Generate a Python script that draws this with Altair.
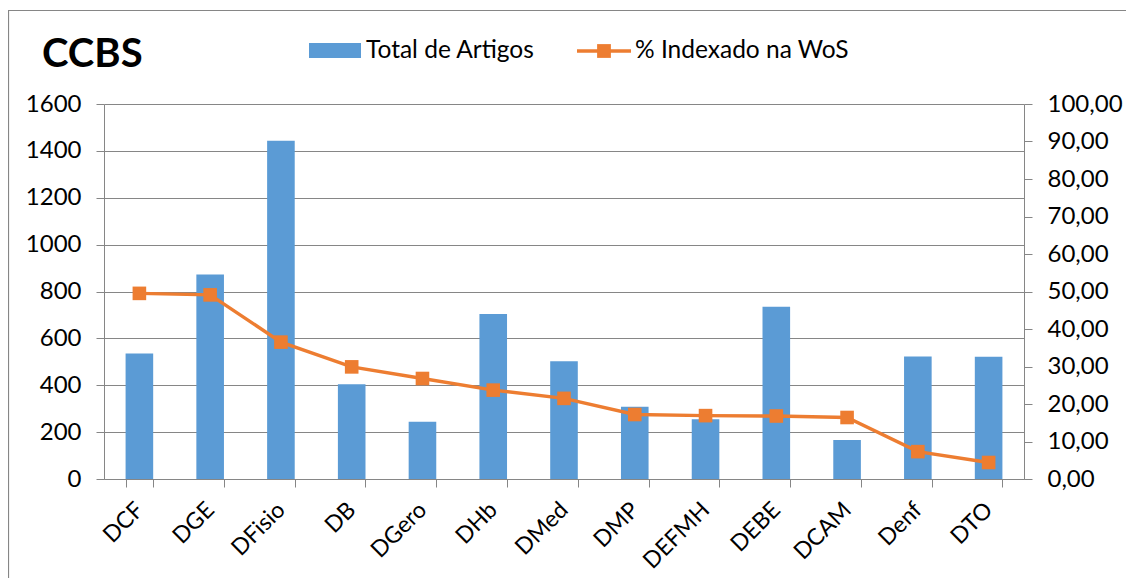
import altair as alt
import pandas as pd

categories = ["DCF", "DGE", "DFisio", "DB", "DGero", "DHb", "DMed", "DMP",
              "DEFMH", "DEBE", "DCAM", "Denf", "DTO"]
total_artigos = [536, 873, 1443, 404, 244, 704, 502, 308, 255, 735, 166, 523, 522]
pct_wos = [49.5, 49.1, 36.5, 29.9, 26.8, 23.7, 21.5, 17.2, 16.9, 16.8, 16.4, 7.3, 4.4]
series_names = ["Total de Artigos", "% Indexado na WoS"]
panel_label = "CCBS"
top_title = "Web of Science"
left_ticks = [0, 200, 400, 600, 800, 1000, 1200, 1400, 1600]
right_ticks = [0, 10, 20, 30, 40, 50, 60, 70, 80, 90, 100]

BLUE = "#5B9BD5"
ORANGE = "#ED7D31"
GRAY = "#868686"
FONT = "Lato"

df = pd.DataFrame({"cat": categories, "total": total_artigos, "pct": pct_wos})

W, H = 920, 375

x_enc = alt.X("cat:N", sort=categories, title=None,
              scale=alt.Scale(paddingInner=0.61, paddingOuter=0.305),
              axis=alt.Axis(labelAngle=-45, labelAlign="right", labelBaseline="middle",
                            labelPadding=19, tickBand="extent", tickSize=8,
                            tickColor=GRAY, domainColor=GRAY, labelFontSize=23,
                            labelFont=FONT, labelColor="black", grid=False))

bars = alt.Chart(df).mark_bar(color=BLUE).encode(
    x=x_enc,
    y=alt.Y("total:Q", title=None,
            scale=alt.Scale(domain=[0, 1600], nice=False),
            axis=alt.Axis(values=left_ticks, format="d", grid=True, gridColor=GRAY,
                          gridWidth=1, tickSize=8, tickColor=GRAY, domainColor=GRAY,
                          labelPadding=15, labelFontSize=24, labelFont=FONT,
                          labelColor="black")),
)

right_axis = alt.Axis(values=right_ticks, orient="right", grid=False, tickSize=8,
                      tickColor=GRAY, domainColor=GRAY, labelPadding=15,
                      labelFontSize=24, labelFont=FONT, labelColor="black",
                      labelExpr="replace(format(datum.value, '.2f'), '.', ',')")
y2_scale = alt.Scale(domain=[0, 100], nice=False)

line = alt.Chart(df).mark_line(color=ORANGE, strokeWidth=3.5).encode(
    x=alt.X("cat:N", sort=categories),
    y=alt.Y("pct:Q", title=None, scale=y2_scale, axis=right_axis),
)
points = alt.Chart(df).mark_point(shape="square", filled=True, color=ORANGE,
                                  size=185, opacity=1).encode(
    x=alt.X("cat:N", sort=categories),
    y=alt.Y("pct:Q", scale=y2_scale, axis=None),
)

one = pd.DataFrame({"k": [0]})

frame = alt.Chart(one).mark_rect(fill=None, stroke=GRAY, strokeWidth=1.2).encode(
    x=alt.value(-95.5), x2=alt.value(1200), y=alt.value(-93.5), y2=alt.value(700))

title_txt = alt.Chart(one).mark_text(fontSize=22, fontWeight="bold", fontStyle="italic",
                                     font=FONT, align="center", baseline="alphabetic",
                                     color="black").encode(
    x=alt.value(456), y=alt.value(-101), text=alt.value(top_title))

ccbs = alt.Chart(one).mark_text(fontSize=40, fontWeight="bold", font=FONT, align="left",
                                baseline="alphabetic", color="black").encode(
    x=alt.value(-62), y=alt.value(-37), text=alt.value(panel_label))

leg_box = alt.Chart(one).mark_rect(color=BLUE).encode(
    x=alt.value(205), x2=alt.value(257), y=alt.value(-61), y2=alt.value(-46))
leg_t1 = alt.Chart(one).mark_text(fontSize=24.5, font=FONT, align="left",
                                  baseline="alphabetic", color="black").encode(
    x=alt.value(262), y=alt.value(-46), text=alt.value(series_names[0]))
leg_line = alt.Chart(one).mark_rule(color=ORANGE, strokeWidth=3.5).encode(
    x=alt.value(473), x2=alt.value(527), y=alt.value(-53))
leg_pt = alt.Chart(one).mark_point(shape="square", filled=True, color=ORANGE,
                                   size=190, opacity=1).encode(
    x=alt.value(500), y=alt.value(-53))
leg_t2 = alt.Chart(one).mark_text(fontSize=24.5, font=FONT, align="left",
                                  baseline="alphabetic", color="black").encode(
    x=alt.value(531), y=alt.value(-46), text=alt.value(series_names[1]))

chart = alt.layer(
    frame, bars, line, points, title_txt, ccbs, leg_box, leg_t1, leg_line, leg_pt, leg_t2
).resolve_scale(y="independent").properties(
    width=W, height=H,
    autosize=alt.AutoSizeParams(type="none"),
    padding={"left": 96, "top": 96, "right": 102, "bottom": 99},
    background="white",
).configure_view(stroke=None)

chart.save("out.html", embed_options={"renderer": "svg", "actions": False})
